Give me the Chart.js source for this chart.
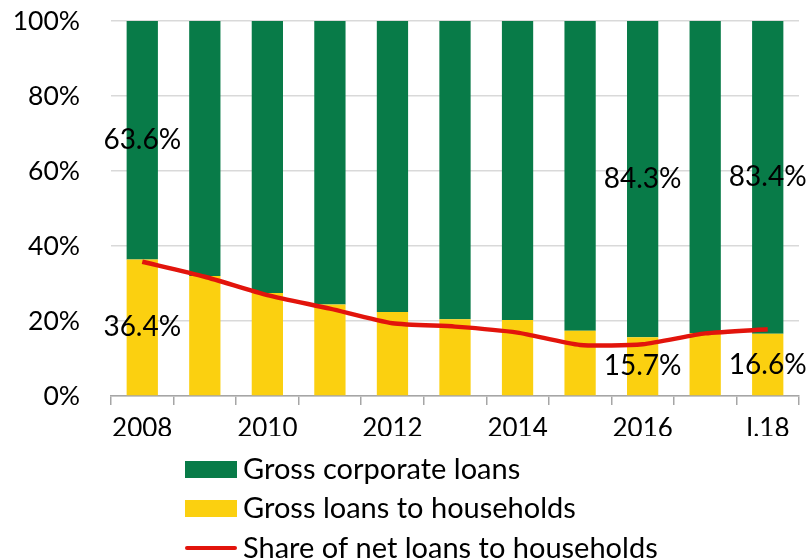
<!DOCTYPE html>
<html>
<head>
<meta charset="utf-8">
<script src="https://cdn.jsdelivr.net/npm/chart.js@4/dist/chart.umd.min.js"></script>
<style>
  html, body { margin: 0; padding: 0; background: #fff; }
  #wrap { width: 811px; height: 559px; }
</style>
</head>
<body>
<div id="wrap"><canvas id="loans"></canvas></div>
<script>
    // shares in total loans, %
    var years = ['2008', '2009', '2010', '2011', '2012', '2013', '2014', '2015', '2016', '2017', 'I.18'];
    var households = [36.4, 32.0, 27.5, 24.4, 22.4, 20.5, 20.3, 17.4, 15.7, 16.8, 16.6];
    var corporate = households.map(function (v) { return +(100 - v).toFixed(1); });
    var netHouseholds = [35.8, 31.8, 26.9, 23.3, 19.4, 18.5, 16.9, 13.6, 13.8, 16.7, 17.8];
    var yTicks = [0, 20, 40, 60, 80, 100];
    var labelled = [0, 8, 10];

    var FONT = 'Lato, "Open Sans", sans-serif';
    var GREEN = '#087b48';
    var YELLOW = '#fbd010';
    var RED = '#e2140c';

    // value labels in the middle of selected bar segments
    var barLabels = {
        id: 'barLabels',
        afterDatasetsDraw: function (chart) {
            var ctx = chart.ctx;
            ctx.save();
            ctx.font = '28px ' + FONT;
            ctx.fillStyle = '#000';
            ctx.textAlign = 'center';
            ctx.textBaseline = 'middle';
            chart.data.datasets.forEach(function (ds, i) {
                if (ds.type !== 'bar') return;
                var meta = chart.getDatasetMeta(i);
                labelled.forEach(function (idx) {
                    var el = meta.data[idx];
                    ctx.fillText(ds.data[idx].toFixed(1) + '%', el.x, (el.y + el.base) / 2);
                });
            });
            ctx.restore();
        }
    };

    // stacked legend below the axis
    var stackLegend = {
        id: 'stackLegend',
        afterDraw: function (chart) {
            var ctx = chart.ctx;
            var x0 = chart.chartArea.left + 74;
            var rows = [
                { ds: 1, y: 469 },
                { ds: 0, y: 508 },
                { ds: 2, y: 548 }
            ];
            ctx.save();
            ctx.font = '29px ' + FONT;
            ctx.textBaseline = 'middle';
            rows.forEach(function (r) {
                var ds = chart.data.datasets[r.ds];
                if (ds.type === 'line') {
                    ctx.strokeStyle = ds.borderColor;
                    ctx.lineWidth = 4;
                    ctx.lineCap = 'round';
                    ctx.beginPath();
                    ctx.moveTo(x0 + 2, r.y);
                    ctx.lineTo(x0 + 50, r.y);
                    ctx.stroke();
                } else {
                    ctx.fillStyle = ds.backgroundColor;
                    ctx.fillRect(x0, r.y - 8, 52, 17);
                }
                ctx.fillStyle = '#000';
                ctx.fillText(ds.label, x0 + 58, r.y + 1);
            });
            ctx.restore();
        }
    };

    new Chart(document.getElementById('loans'), {
        data: {
            labels: years,
            datasets: [
                {
                    type: 'bar',
                    label: 'Gross loans to households',
                    data: households,
                    backgroundColor: YELLOW,
                    barPercentage: 0.5,
                    categoryPercentage: 1.0,
                    order: 1
                },
                {
                    type: 'bar',
                    label: 'Gross corporate loans',
                    data: corporate,
                    backgroundColor: GREEN,
                    barPercentage: 0.5,
                    categoryPercentage: 1.0,
                    order: 1
                },
                {
                    type: 'line',
                    label: 'Share of net loans to households',
                    data: netHouseholds,
                    stack: 'net',
                    borderColor: RED,
                    borderWidth: 4.5,
                    pointRadius: 0,
                    tension: 0.2,
                    fill: false,
                    order: 0
                }
            ]
        },
        options: {
            responsive: true,
            maintainAspectRatio: false,
            animation: false,
            layout: { padding: { top: 21, right: 12, bottom: 123, left: 0 } },
            plugins: {
                legend: { display: false },
                tooltip: { enabled: false }
            },
            scales: {
                x: {
                    stacked: true,
                    afterFit: function (s) { s.height = 40; s.paddingLeft = 0; s.paddingRight = 0; },
                    border: { display: true, color: '#a6a6a6', width: 1.5 },
                    grid: {
                        display: true,
                        offset: true,
                        drawOnChartArea: false,
                        drawTicks: true,
                        tickLength: 9,
                        color: '#a6a6a6',
                        lineWidth: 1.5
                    },
                    ticks: {
                        autoSkip: false,
                        maxRotation: 0,
                        padding: 8,
                        color: '#000',
                        font: { family: FONT, size: 26 },
                        callback: function (v, i) { return i % 2 === 0 ? years[i] : ''; }
                    }
                },
                y: {
                    stacked: true,
                    min: 0,
                    max: 100,
                    afterFit: function (s) { s.width = 111; s.paddingTop = 0; s.paddingBottom = 0; },
                    afterBuildTicks: function (s) {
                        s.ticks = yTicks.map(function (v) { return { value: v }; });
                    },
                    border: { display: false },
                    grid: { color: '#d9d9d9', lineWidth: 1.5, drawTicks: false },
                    ticks: {
                        padding: 31,
                        color: '#000',
                        font: { family: FONT, size: 26.5 },
                        callback: function (v) { return v + '%'; }
                    }
                }
            }
        },
        plugins: [barLabels, stackLegend]
    });
</script>
</body>
</html>
